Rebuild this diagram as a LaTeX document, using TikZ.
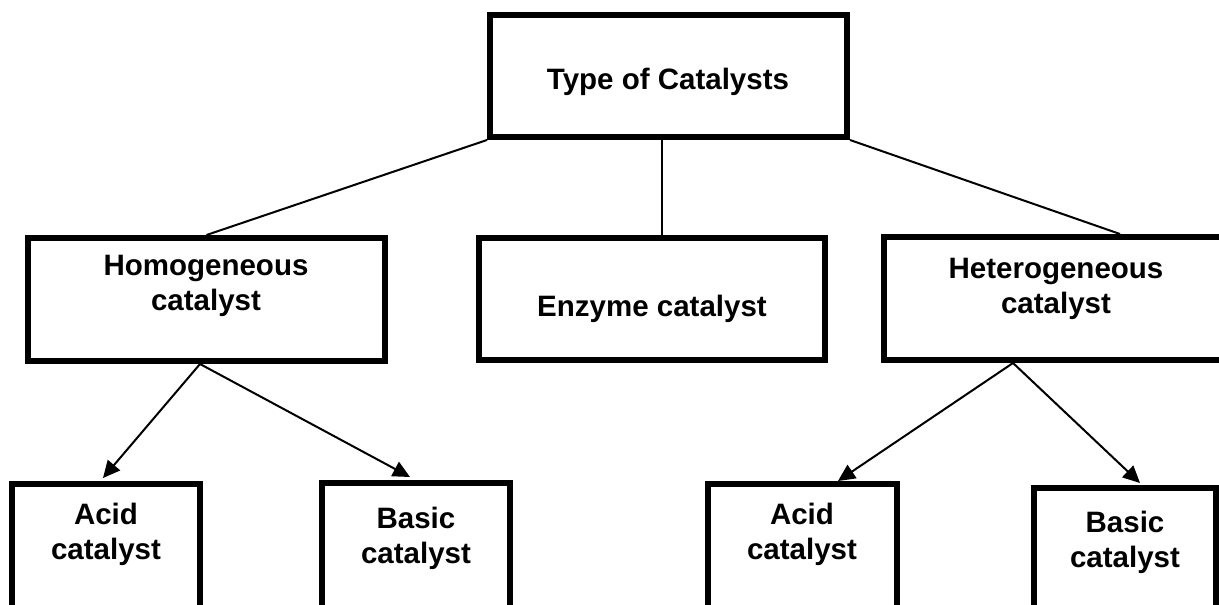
\documentclass[tikz,border=0pt]{standalone}
\usepackage{fontspec}
\setmainfont{Liberation Sans}
\usetikzlibrary{arrows.meta}
\begin{document}
\begin{tikzpicture}[x=1pt,y=-1pt,
  box/.style={draw, line width=6pt, inner sep=0pt, minimum height=123pt},
  lbl/.style={anchor=north, inner sep=0pt, align=center, font=\fontsize{29.5}{35}\selectfont\bfseries},
  link/.style={line width=2pt},
  arr/.style={line width=2pt, -{Triangle[length=17pt,width=16pt]}}]
\useasboundingbox (0,0) rectangle (1219,605);
\clip (0,0) rectangle (1219,605);
% boxes
\node[box, minimum width=357pt, minimum height=122pt] (top) at (668.5,76) {};
\node[box, minimum width=357pt] (homo) at (206.5,299.5) {};
\node[box, minimum width=346pt, minimum height=122pt] (enz) at (652,299) {};
\node[box, minimum width=344pt] (het) at (1056,298.5) {};
\node[box, minimum width=188pt, minimum height=125pt] (acid1) at (106,546.5) {};
\node[box, minimum width=188pt, minimum height=125pt] (basic1) at (416,545.5) {};
\node[box, minimum width=189pt, minimum height=125pt] (acid2) at (802.5,546.5) {};
\node[box, minimum width=182pt, minimum height=125pt] (basic2) at (1125,550.5) {};
% labels
\node[lbl] (ltop) at (668,68) {Type of Catalysts};
\node[lbl] (lhomo) at (206,255) {Homogeneous\\catalyst};
\node[lbl] (lenz) at (652,295) {Enzyme catalyst};
\node[lbl] (lhet) at (1056,258) {Heterogeneous\\catalyst};
\node[lbl] (lacid1) at (106,503) {Acid\\catalyst};
\node[lbl] (lbasic1) at (416,507) {Basic\\catalyst};
\node[lbl] (lacid2) at (802,503) {Acid\\catalyst};
\node[lbl] (lbasic2) at (1125,511) {Basic\\catalyst};
% connectors
\draw[link] (top.south west) -- (homo.north);
\draw[link] ([xshift=-6.5pt]top.south) -- ([xshift=-6.5pt]top.south |- enz.north);
\draw[link] (top.south east) -- ([xshift=64pt]het.north);
\draw[arr] ([xshift=-6.5pt]homo.south) -- ([xshift=-3pt,yshift=3pt]acid1.north);
\draw[arr] ([xshift=-6.5pt]homo.south) -- ([xshift=-6pt,yshift=3pt]basic1.north);
\draw[arr] ([xshift=-43pt]het.south) -- ([xshift=35.5pt]acid2.north);
\draw[arr] ([xshift=-43pt]het.south) -- ([xshift=15pt,yshift=2pt]basic2.north);
\end{tikzpicture}
\end{document}
